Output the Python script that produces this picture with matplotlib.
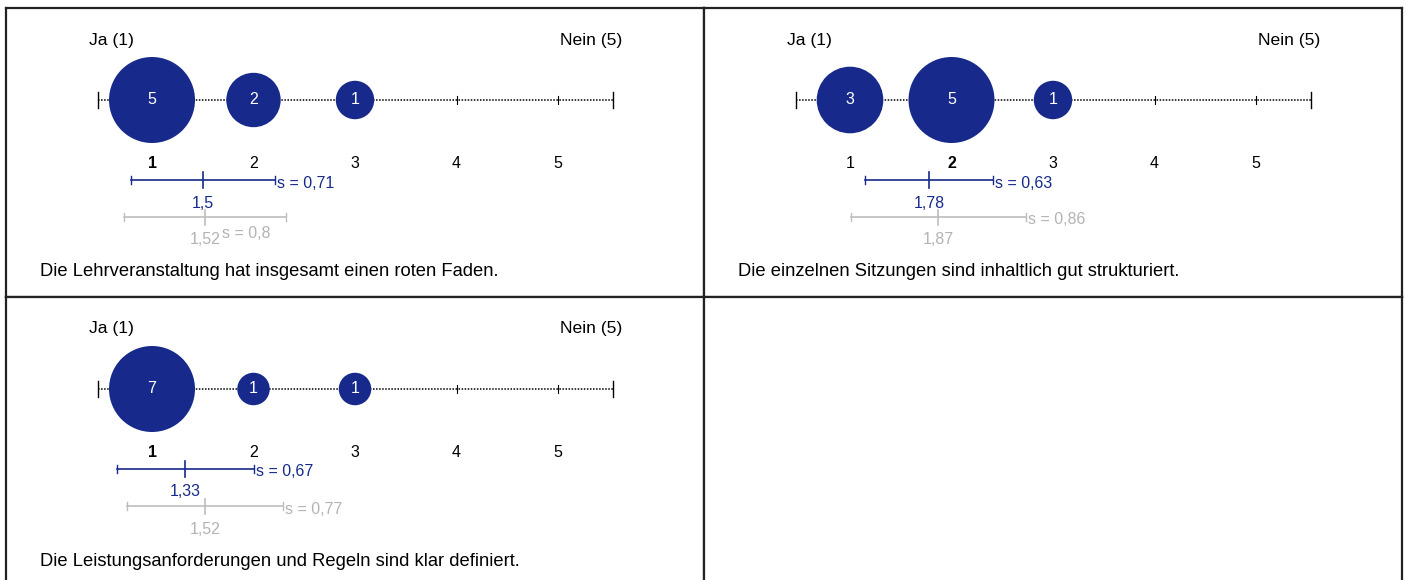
import matplotlib
matplotlib.use("Agg")
import matplotlib.pyplot as plt
import numpy as np

plt.rcParams['font.family'] = ['Liberation Sans', 'DejaVu Sans']

# survey items, one panel each
questions = ["Die Lehrveranstaltung hat insgesamt einen roten Faden.",
             "Die einzelnen Sitzungen sind inhaltlich gut strukturiert.",
             "Die Leistungsanforderungen und Regeln sind klar definiert."]
scale = [1, 2, 3, 4, 5]
counts = [[5, 2, 1, 0, 0],
          [3, 5, 1, 0, 0],
          [7, 1, 1, 0, 0]]
medians = [1, 2, 1]
means = [1.5, 1.78, 1.33]
sds = [0.71, 0.63, 0.67]
ref_means = [1.52, 1.87, 1.52]
ref_sds = [0.8, 0.86, 0.77]
left_label = "Ja (1)"
right_label = "Nein (5)"

NAVY = "#172a8b"
GREY = "#bdbdbd"
GREY_TXT = "#b3b3b3"
FS = 11.5

W, H = 1406, 580
fig = plt.figure(figsize=(W / 100, H / 100), dpi=100)

# panel boxes in pixels (left, top)
pw, ph = 698, 289
boxes = [(6, 8), (704, 8), (6, 297), (704, 297)]
px = 101.5  # pixels per scale step
x0 = 146    # pixel position of scale value 1 inside a panel


def fmt(v):
    return ("%g" % v).replace(".", ",")


def panel_axes(left, top):
    ax = fig.add_axes([left / W, 1 - (top + ph) / H, pw / W, ph / H])
    ax.set_xlim(1 - x0 / px, 1 + (pw - x0) / px)
    ax.set_ylim(ph, 0)
    ax.set_xticks([])
    ax.set_yticks([])
    for sp in ax.spines.values():
        sp.set_linewidth(1.6)
        sp.set_color("#222222")
    return ax


for i, q in enumerate(questions):
    ax = panel_axes(*boxes[i])
    ly = 92
    lo, hi = 0.468, 5.54
    # dotted scale line
    ax.plot([lo, hi], [ly, ly], color="black", lw=1.1, dashes=(1, 1), zorder=1)
    ax.plot([lo, lo], [ly - 8, ly + 8], color="black", lw=1, zorder=1)
    ax.plot([hi, hi], [ly - 8, ly + 8], color="black", lw=1, zorder=1)
    for v in scale:
        ax.plot([v, v], [ly - 4, ly + 4], color="black", lw=0.8, zorder=1)
    ax.text(0.6, 32, left_label, ha="center", va="center", fontsize=12.6)
    ax.text(5.33, 32, right_label, ha="center", va="center", fontsize=12.6)

    # bubbles, area proportional to count, largest radius 43 px
    c = np.array(counts[i], dtype=float)
    smax = (2 * 43 * 0.72) ** 2
    nz = c > 0
    ax.scatter(np.array(scale)[nz], [ly] * nz.sum(), s=smax * c[nz] / c.max(),
               color=NAVY, edgecolors="none", zorder=2)
    for v, n in zip(scale, counts[i]):
        if n > 0:
            ax.text(v, ly, str(n), color="white", ha="center", va="center",
                    fontsize=FS, zorder=3)
        ax.text(v, 156, str(v), ha="center", va="center", fontsize=FS,
                fontweight="bold" if v == medians[i] else "normal")

    # own mean and sd
    m, s = means[i], sds[i]
    by = 172
    ax.plot([m - s, m + s], [by, by], color=NAVY, lw=1.2)
    for e in (m - s, m + s):
        ax.plot([e, e], [by - 4, by + 4], color=NAVY, lw=1)
    ax.plot([m, m], [by - 8, by + 8], color=NAVY, lw=1.2)
    ax.text(m + s + 0.02, by + 3, "s = " + fmt(s), color=NAVY, ha="left",
            va="center", fontsize=FS)
    ax.text(m, 195, fmt(m), color=NAVY, ha="center", va="center", fontsize=FS)

    # comparison mean and sd
    m, s = ref_means[i], ref_sds[i]
    gy = 209
    ax.plot([m - s, m + s], [gy, gy], color=GREY, lw=1.2)
    for e in (m - s, m + s):
        ax.plot([e, e], [gy - 4, gy + 4], color=GREY, lw=1)
    ax.plot([m, m], [gy - 7, gy + 8], color=GREY, lw=1.2)
    if i == 0:
        ax.text(m + 0.17, 225, "s = " + fmt(s), color=GREY_TXT, ha="left",
                va="center", fontsize=FS)
    else:
        ax.text(m + s + 0.02, gy + 3, "s = " + fmt(s), color=GREY_TXT,
                ha="left", va="center", fontsize=FS)
    ax.text(m, 232, fmt(m), color=GREY_TXT, ha="center", va="center",
            fontsize=FS)

    ax.text(1 - (x0 - 34) / px, 264, q, ha="left", va="center", fontsize=13.2)

# empty fourth cell
panel_axes(*boxes[3])

fig.savefig("out.png", dpi=100)
